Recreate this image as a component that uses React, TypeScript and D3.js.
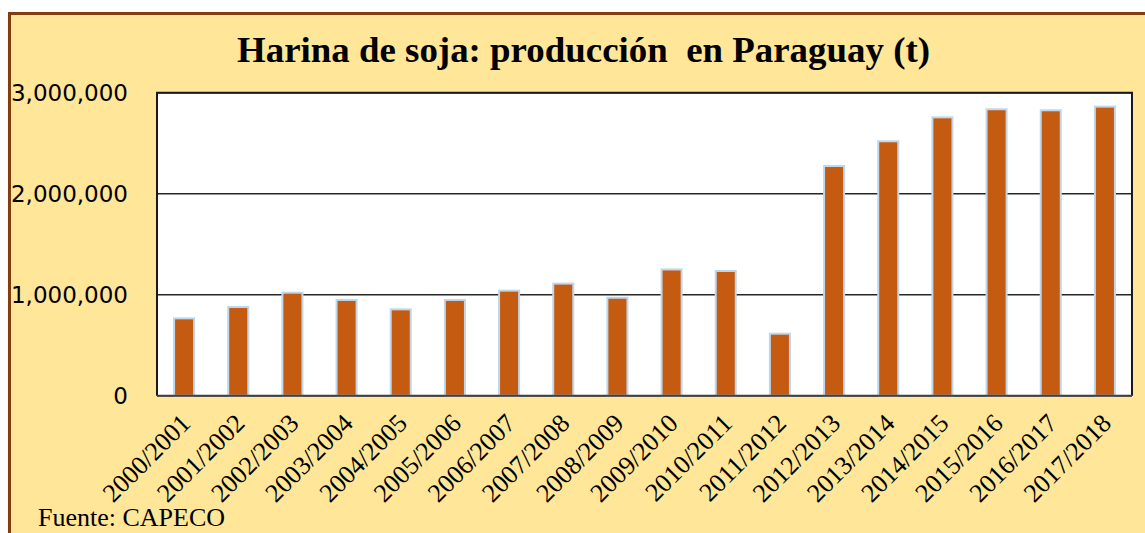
import * as d3 from "d3";

const campaigns = [
  "2000/2001", "2001/2002", "2002/2003", "2003/2004", "2004/2005", "2005/2006",
  "2006/2007", "2007/2008", "2008/2009", "2009/2010", "2010/2011", "2011/2012",
  "2012/2013", "2013/2014", "2014/2015", "2015/2016", "2016/2017", "2017/2018",
];

// toneladas
const production = [
  766000, 878000, 1020000, 948000, 855000, 948000,
  1040000, 1110000, 970000, 1250000, 1235000, 614000,
  2274000, 2519000, 2756000, 2836000, 2826000, 2862000,
];

const yTicks = [0, 1000000, 2000000, 3000000];

const title = "Harina de soja: producción  en Paraguay (t)";
const source = "Fuente: CAPECO";

const W = 1145;
const H = 533;

export default function App() {
  const plot = { left: 157, right: 1132, top: 92.7, bottom: 395.7 };

  const x = d3
    .scaleBand<string>()
    .domain(campaigns)
    .range([plot.left, plot.right])
    .paddingInner(0.63)
    .paddingOuter(0.315);

  const y = d3.scaleLinear().domain([0, 3000000]).range([plot.bottom, plot.top]);

  const fmt = d3.format(",");

  return (
    <svg
      width={W}
      height={H}
      style={{ position: "fixed", left: 0, top: 0, display: "block" }}
    >
      <rect x={0} y={0} width={W} height={H} fill="#fff" />
      {/* marco */}
      <rect
        x={9.5}
        y={13.5}
        width={W + 40}
        height={H + 40}
        fill="#FFE699"
        stroke="#843C0C"
        strokeWidth={3}
      />

      <text
        x={583.5}
        y={62}
        textAnchor="middle"
        fontFamily="'Liberation Serif', 'Times New Roman', serif"
        fontWeight="bold"
        fontSize={35}
        textLength={693}
        lengthAdjust="spacingAndGlyphs"
        fill="#000"
        style={{ whiteSpace: "pre" }}
      >
        {title}
      </text>

      {/* area de trazado */}
      <rect
        x={plot.left}
        y={plot.top}
        width={plot.right - plot.left}
        height={plot.bottom - plot.top}
        fill="#fff"
      />

      {yTicks.map((t) => (
        <g key={t}>
          <line
            x1={plot.left}
            x2={plot.right}
            y1={y(t)}
            y2={y(t)}
            stroke="#262626"
            strokeWidth={1.5}
          />
          <text
            x={128}
            y={y(t)}
            dy="0.36em"
            textAnchor="end"
            fontFamily="'DejaVu Sans', Verdana, sans-serif"
            fontSize={23}
            fill="#000"
          >
            {fmt(t)}
          </text>
        </g>
      ))}

      {production.map((v, i) => (
        <rect
          key={campaigns[i]}
          x={x(campaigns[i])}
          y={y(v)}
          width={x.bandwidth()}
          height={plot.bottom - y(v)}
          fill="#C55A11"
          stroke="#BDD7EE"
          strokeWidth={2}
        />
      ))}

      {/* borde del area */}
      <polyline
        points={`${plot.left},${plot.bottom} ${plot.left},${plot.top} ${plot.right},${plot.top} ${plot.right},${plot.bottom}`}
        fill="none"
        stroke="#1a1a1a"
        strokeWidth={2}
      />
      <line
        x1={plot.left}
        x2={plot.right}
        y1={plot.bottom}
        y2={plot.bottom}
        stroke="#404040"
        strokeWidth={2}
      />

      {campaigns.map((c) => {
        const cx = (x(c) ?? 0) + x.bandwidth() / 2 - 5;
        const cy = 412;
        return (
          <text
            key={c}
            transform={`translate(${cx},${cy}) rotate(-45)`}
            textAnchor="end"
            dy="0.7em"
            fontFamily="'Liberation Serif', 'Times New Roman', serif"
            fontSize={26}
            fill="#000"
          >
            {c}
          </text>
        );
      })}

      <text
        x={38}
        y={526}
        fontFamily="'Liberation Serif', 'Times New Roman', serif"
        fontSize={26}
        fill="#000"
      >
        {source}
      </text>
    </svg>
  );
}
